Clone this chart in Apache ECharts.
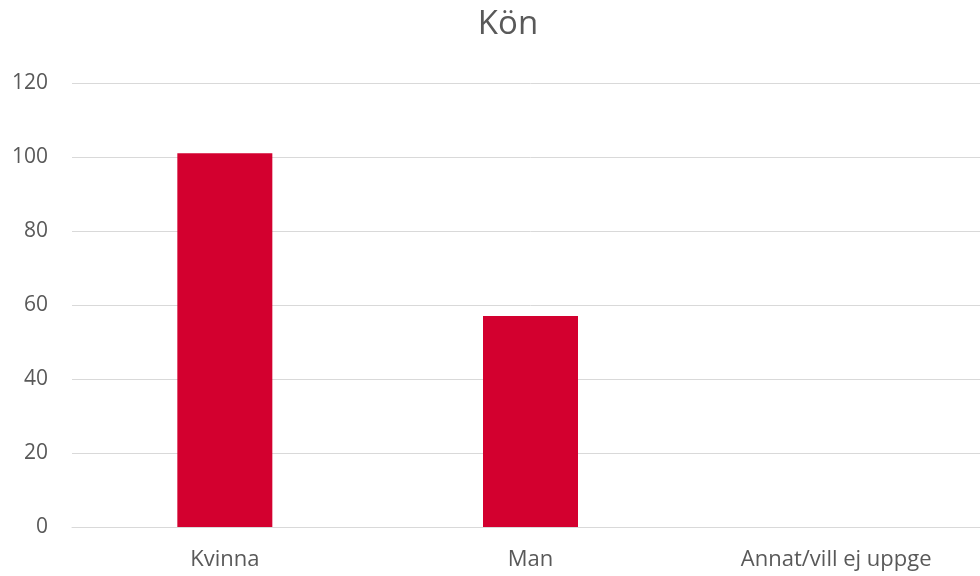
<!DOCTYPE html>
<html>
<head>
<meta charset="utf-8">
<script src="https://cdn.jsdelivr.net/npm/echarts@6/dist/echarts.min.js"></script>
<style>
  html, body { margin: 0; padding: 0; background: #ffffff; overflow: hidden; }
  #chart { width: 1016px; height: 576px; }
</style>
</head>
<body>
<div id="chart"></div>
<script>
// Svarsfördelning per kön
const categories = ['Kvinna', 'Man', 'Annat/vill ej uppge'];
const counts = [101, 57, 0];
const yTicks = { min: 0, max: 120, interval: 20 };

const chart = echarts.init(document.getElementById('chart'), null, { renderer: 'canvas' });
const font = '"Open Sans", "Noto Sans", sans-serif';

chart.setOption({
  animation: false,
  backgroundColor: '#ffffff',
  title: {
    text: 'Kön',
    left: 'center',
    top: 3,
    textStyle: { fontFamily: font, fontSize: 33, fontWeight: 'normal', color: '#595959' }
  },
  grid: { left: 72, top: 83, right: 27, height: 444 },
  xAxis: {
    type: 'category',
    data: categories,
    axisLine: { lineStyle: { color: '#D9D9D9', width: 1 } },
    axisTick: { show: false },
    axisLabel: { fontFamily: font, fontSize: 22, color: '#595959', margin: 22 }
  },
  yAxis: {
    type: 'value',
    min: yTicks.min,
    max: yTicks.max,
    interval: yTicks.interval,
    axisLine: { show: false },
    axisTick: { show: false },
    splitLine: { lineStyle: { color: '#D9D9D9', width: 1 } },
    axisLabel: { fontFamily: font, fontSize: 21, color: '#595959', margin: 24 }
  },
  series: [{
    type: 'bar',
    data: counts,
    barWidth: 95,
    itemStyle: { color: '#D3002F' }
  }]
});
</script>
</body>
</html>
